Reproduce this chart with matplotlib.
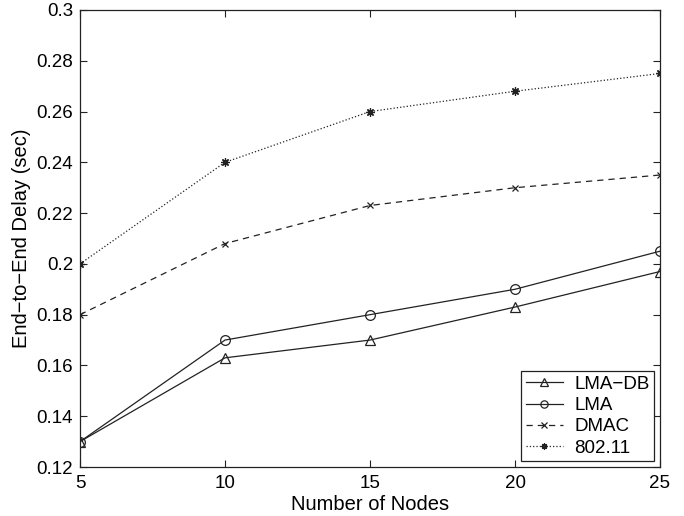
import matplotlib
matplotlib.use("Agg")
import matplotlib.pyplot as plt

nodes = [5, 10, 15, 20, 25]
lma_db = [0.130, 0.163, 0.170, 0.183, 0.197]
lma = [0.130, 0.170, 0.180, 0.190, 0.205]
dmac = [0.180, 0.208, 0.223, 0.230, 0.235]
ieee80211 = [0.200, 0.240, 0.260, 0.268, 0.275]
yticks = [0.12, 0.14, 0.16, 0.18, 0.2, 0.22, 0.24, 0.26, 0.28, 0.3]
ytick_labels = ["0.12", "0.14", "0.16", "0.18", "0.2", "0.22", "0.24", "0.26", "0.28", "0.3"]

plt.rcParams['font.family'] = ['Liberation Sans', 'DejaVu Sans']

fig = plt.figure(figsize=(6.84, 5.16), dpi=100)
ax = fig.add_axes([80/684, 49/516, 580/684, 457/516])

lc = '#222222'
ax.plot(nodes, lma_db, '-', color=lc, lw=0.9, marker='^', mfc='none', mec=lc, ms=7, mew=0.9, label='LMA\u2212DB')
ax.plot(nodes, lma, '-', color=lc, lw=0.9, marker='o', mfc='none', mec=lc, ms=7, mew=0.9, label='LMA')
ax.plot(nodes, dmac, '--', color=lc, lw=0.9, marker='x', mec=lc, ms=5, mew=0.9, dashes=(5, 4), label='DMAC')
ax.plot(nodes, ieee80211, ':', color=lc, lw=0.9, marker=(8, 2, 0), mec=lc, ms=6, mew=0.9, label='802.11')

ax.set_xlim(5, 25)
ax.set_ylim(0.12, 0.3)
ax.set_xticks(nodes)
ax.set_yticks(yticks)
ax.set_yticklabels(ytick_labels)
ax.tick_params(direction='in', length=5, labelsize=13.5, color=lc, width=0.8, top=True, right=True)
ax.tick_params(axis='x', pad=6)
ax.tick_params(axis='y', pad=5)
for s in ax.spines.values():
    s.set_color(lc)
    s.set_linewidth(0.9)

ax.set_xlabel('Number of Nodes', fontsize=14.5, labelpad=2)
ax.set_ylabel('End\u2212to\u2212End Delay (sec)', fontsize=14.5, labelpad=4)

leg = ax.legend(loc='lower right', fontsize=13.5, frameon=True, fancybox=False,
                edgecolor=lc, framealpha=1, borderpad=0.25, labelspacing=0.22,
                handlelength=2.0, handletextpad=0.6, borderaxespad=0.3,
                markerscale=0.75)
leg.get_frame().set_linewidth(0.9)

fig.savefig('out.png', dpi=100)
